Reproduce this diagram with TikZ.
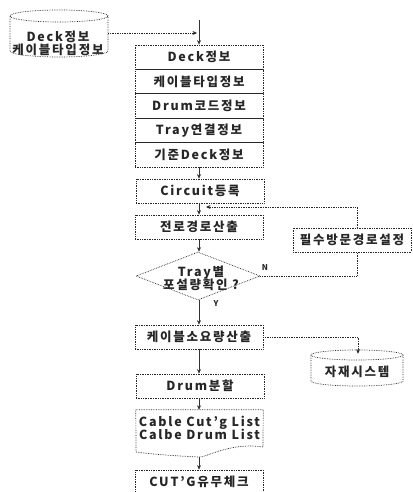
\documentclass[tikz,border=0pt]{standalone}
\usepackage{fontspec}
\setmainfont{Noto Sans CJK KR}[LetterSpace=14]
\usetikzlibrary{arrows.meta,shapes.geometric}
\begin{document}
\begin{tikzpicture}[x=1pt,y=1pt,
  every node/.style={font=\fontsize{12.5}{14}\selectfont\bfseries, inner sep=0pt, text=black!85},
  lbox/.style={draw=black!85, line width=0.7pt, densely dotted, minimum width=128pt, minimum height=24pt},
  sbox/.style={draw=black!85, line width=0.7pt, densely dotted, minimum width=128pt, minimum height=24.4pt},
  dia/.style={draw=black!85, line width=0.7pt, densely dotted, diamond, aspect=2.6, minimum width=124pt, minimum height=48pt},
  cyl/.style={draw=black!85, line width=0.7pt, densely dotted},
  conn/.style={draw=black!80, line width=0.6pt, -{Stealth[length=4.5pt,width=4pt]}},
  hconn/.style={draw=black!85, line width=0.7pt, densely dotted},
  lab/.style={font=\fontsize{8}{9}\selectfont\bfseries}
]
\useasboundingbox (0,0) rectangle (412,492);

% cylinder 1
\node[minimum width=98pt, minimum height=34pt] (db1) at (59,452) {};
\node[align=center] (db1t) at (58,449) {Deck정보\\[-1pt]케이블타입정보};
\draw[cyl] (59,476) ellipse [x radius=49, y radius=6];
\draw[cyl] (10,476) -- (10,441) arc[start angle=180, end angle=360, x radius=49, y radius=6] -- (108,476);

% stacked box
\node[sbox] (r1) at (199,434.8) {Deck정보};
\node[sbox] (r2) at (199,410.4) {케이블타입정보};
\node[sbox] (r3) at (199,386.0) {Drum코드정보};
\node[sbox] (r4) at (199,361.6) {Tray연결정보};
\node[sbox] (r5) at (199,337.2) {기준Deck정보};

\coordinate (top) at (199,472);
\coordinate (join) at (197,459);
\draw[conn] (top) -- (r1.north);
\draw[hconn, -{Stealth[length=4.5pt,width=4pt]}] (db1.east |- join) -- (join);

\node[lbox] (circ) at (200,301) {Circuit등록};
\node[lbox] (path) at (199,265) {전로경로산출};
\node[dia, align=center] (chk) at (198,216) {};
\node[align=center] at (201,214) {Tray별\\[-1pt]포설량확인 ?};
\node[lbox, minimum width=118pt] (must) at (352,252) {필수방문경로설정};
\node[lbox] (calc) at (199,155) {케이블소요량산출};
\node[lbox] (drum) at (200,106) {Drum분할};
\node[minimum width=127pt, minimum height=47pt] (doc) at (199.5,58.5) {};
\node[align=center] at (199.5,64) {Cable Cut’g List\\[-1pt]Calbe Drum List};
\draw[cyl] (doc.north west) -- (doc.north east) -- (263,45)
  .. controls (230,50) and (205,34) .. (199.5,35)
  .. controls (175,36) and (150,38) .. (136,40) -- cycle;
\node[lbox] (cut) at (199,10) {CUT’G유무체크};

% cylinder 2
\node[minimum width=92pt, minimum height=30pt] (db2) at (357,123) {};
\node (db2t) at (357,120) {자재시스템};
\draw[cyl] (357,137) ellipse [x radius=46, y radius=5];
\draw[cyl] (311,137) -- (311,111) arc[start angle=180, end angle=360, x radius=46, y radius=5] -- (403,137);

% connectors
\draw[conn] (r5.south) -- (circ.north -| r5.south);
\draw[conn] (circ.south -| r5.south) -- (path.north);
\draw[conn] (path.south) -- (chk.north -| path.south);
\draw[conn] (chk.south -| path.south) -- (calc.north);
\draw[conn] (calc.south) -- (drum.north -| calc.south);
\draw[conn] (drum.south -| calc.south) -- (doc.north -| calc.south);
\draw[conn] (199,35) -- (cut.north);

\coordinate (fb) at (206,285);
\draw[hconn, -{Stealth[length=4.5pt,width=4pt]}] (must.north -| 357,0) |- (fb);
\draw[hconn] (chk.east) -| (must.south -| 357,0);
\node[lab] at (265,224) {N};
\node[lab] at (216,188) {Y};

\draw[hconn, -{Stealth[length=4.5pt,width=4pt]}] (calc.east) -| (db2.north -| 358,0);
\end{tikzpicture}
\end{document}
